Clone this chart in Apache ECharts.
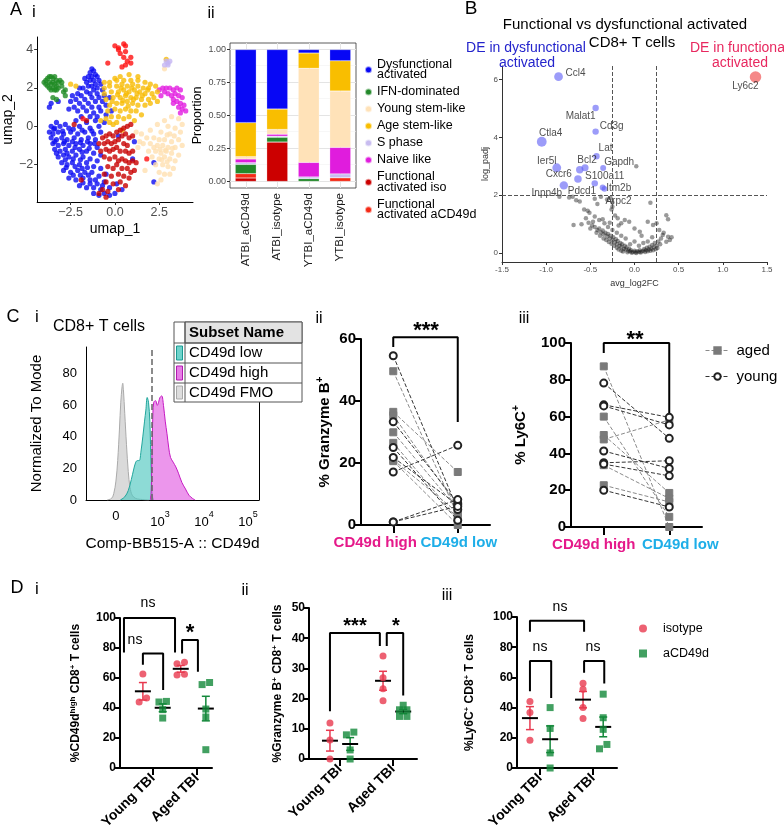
<!DOCTYPE html>
<html>
<head>
<meta charset="utf-8">
<title>CD49d figure</title>
<script src="https://cdn.jsdelivr.net/npm/echarts@6/dist/echarts.min.js"></script>
<style>
  html, body { margin: 0; padding: 0; background: #fff; }
  #fig { width: 784px; height: 837px; }
</style>
</head>
<body>
<div id="fig"></div>
<script>
const FONT = 'Liberation Sans, Arial, Helvetica, sans-serif';

// ---------- A i : UMAP, one list per cluster ----------
const umapDysfunctional = [
  [-1.3,3.0],[-1.2,2.9],[-1.4,2.8],[-1.1,2.7],[-1.3,2.6],[-1.0,2.6],[-1.5,2.6],[-1.7,2.5],[-1.6,2.3],[-1.4,2.4],[-1.2,2.4],[-0.9,2.4],
  [-0.8,2.2],[-1.1,2.2],[-1.3,2.1],[-1.5,2.1],[-1.8,2.0],[-2.0,2.0],[-1.0,2.0],[-0.7,1.9],[-1.2,1.9],[-1.6,1.8],[-2.1,1.7],[-2.4,1.6],
  [-1.9,1.6],[-1.4,1.7],[-1.0,1.7],[-0.6,1.6],[-0.9,1.5],[-1.3,1.5],[-1.7,1.4],[-2.2,1.4],[-2.5,1.3],[-2.0,1.2],[-1.5,1.2],[-1.1,1.3],
  [-0.7,1.3],[-0.5,1.1],[-0.9,1.0],[-1.3,1.0],[-1.8,1.0],[-2.3,1.0],[-2.6,0.9],[-2.1,0.8],[-1.6,0.8],[-1.2,0.7],[-0.8,0.8],[-0.5,0.6],
  [-1.0,0.5],[-1.4,0.5],[-1.9,0.5],[-3.6,1.2],[-3.7,1.0],[-3.2,1.3],
  [-3.3,0.2],[-2.8,0.1],[-2.2,0.3],[-1.6,0.2],[-1.1,0.3],[-0.6,0.2],
  [-3.6,0.0],[-3.4,-0.1],[-3.1,0.0],[-2.6,-0.1],[-2.0,0.0],[-1.4,-0.1],[-0.9,0.0],
  [-3.7,-0.3],[-3.5,-0.4],[-3.2,-0.3],[-2.9,-0.4],[-2.5,-0.3],[-2.1,-0.4],[-1.7,-0.3],[-1.2,-0.4],[-0.8,-0.3],
  [-3.6,-0.6],[-3.3,-0.7],[-3.0,-0.6],[-2.7,-0.7],[-2.3,-0.6],[-1.9,-0.7],[-1.5,-0.6],[-1.1,-0.7],
  [-3.5,-0.9],[-3.2,-1.0],[-2.9,-0.9],[-2.6,-1.0],[-2.2,-0.9],[-1.8,-1.0],[-1.4,-0.9],[-1.0,-1.1],
  [-3.4,-1.2],[-3.1,-1.3],[-2.8,-1.2],[-2.4,-1.3],[-2.0,-1.2],[-1.6,-1.3],[-1.2,-1.4],[-0.8,-1.5],
  [-3.2,-1.6],[-2.9,-1.5],[-2.6,-1.6],[-2.2,-1.5],[-1.8,-1.6],[-1.4,-1.7],[-1.0,-1.8],
  [-3.0,-1.9],[-2.7,-2.0],[-2.4,-1.9],[-2.0,-2.0],[-1.6,-1.9],[-1.2,-2.1],[-0.8,-2.2],
  [-2.9,-2.3],[-2.5,-2.4],[-2.1,-2.3],[-1.7,-2.4],[-1.3,-2.4],[-0.9,-2.6],[-0.5,-2.5],
  [-2.6,-2.7],[-2.2,-2.8],[-1.8,-2.7],[-1.4,-2.8],[-1.0,-3.0],[-0.6,-2.9],
  [-2.0,-3.1],[-1.6,-3.2],[-1.2,-3.2],[-0.8,-3.3],[-0.3,-3.2],[0.1,-3.0],
  [-1.2,-3.5],[-0.9,-3.6],[-0.6,-3.5],[-0.3,-3.6],[0.0,-3.5],[0.4,-3.3],
  [2.2,-1.9],[2.2,-2.9],[1.0,-1.7],[0.2,-0.5],[-0.2,0.8],[-0.3,1.5],[1.1,-0.8],
  [-3.45,-0.15],[-2.95,-0.25],[-2.35,-0.15],[-1.85,-0.2],[-1.3,-0.25],[-3.4,-0.8],[-2.85,-0.8],[-2.4,-0.8],[-1.95,-0.85],[-1.55,-0.8],
  [-1.15,-0.9],[-3.3,-1.4],[-2.7,-1.4],[-2.25,-1.1],[-1.85,-1.35],[-1.45,-1.15],[-2.8,-1.75],[-2.35,-1.7],[-1.95,-1.75],[-1.55,-2.15],
  [-2.75,-2.15],[-2.25,-2.1],[-1.85,-2.2],[-2.35,-2.55],[-1.95,-2.55],[-1.5,-2.55],[-1.1,-2.8],[-1.8,-2.95],[-1.4,-3.0],[-0.7,-3.1]
];
const umapIFN = [
  [-4.0,2.3],[-3.9,2.4],[-3.8,2.5],[-3.7,2.6],[-3.6,2.6],[-3.5,2.5],[-3.4,2.6],[-3.3,2.4],[-3.9,2.2],[-3.8,2.1],[-3.7,2.3],[-3.6,2.2],
  [-3.5,2.3],[-3.4,2.2],[-3.3,2.1],[-3.2,2.3],[-3.1,2.4],[-3.0,2.3],[-3.7,2.0],[-3.6,1.9],[-3.5,2.0],[-3.4,1.9],[-3.3,1.9],[-3.2,2.0],
  [-3.0,2.1],[-2.9,1.8],[-2.8,1.9],[-3.5,1.5],[-3.3,1.4],[-2.8,1.6]
];
const umapYoungStem = [
  [3.2,0.5],[3.6,0.4],[3.8,0.1],[2.8,0.3],[2.4,0.1],[3.0,0.0],[3.4,-0.1],[3.7,-0.3],[2.0,-0.2],[2.6,-0.3],[3.1,-0.4],[1.5,-0.4],
  [1.2,-0.3],[1.8,-0.6],[2.2,-0.6],[2.5,-0.7],[2.8,-0.7],[3.2,-0.8],[3.6,-0.7],[1.6,-0.9],[2.0,-0.9],[2.4,-1.0],[2.7,-1.0],[3.0,-1.1],
  [3.4,-1.1],[3.8,-1.0],[1.9,-1.3],[2.3,-1.3],[2.6,-1.4],[2.9,-1.3],[3.2,-1.4],[3.6,-1.5],[2.1,-1.6],[2.5,-1.7],[2.8,-1.6],[3.1,-1.7],
  [3.4,-1.8],[2.3,-2.0],[2.7,-2.0],[3.0,-2.1],[3.3,-2.2],[2.5,-2.4],[2.8,-2.5],[3.1,-2.5],[2.6,-2.8],[2.4,-3.0],[1.7,-2.3],[1.3,-1.1],
  [1.4,-0.8],[2.2,-1.1],[2.95,-0.45],[3.35,-0.5],[2.55,-1.2],[2.85,-1.25],[3.25,-1.15],[2.65,-1.75],[2.95,-1.85],[2.8,3.0]
];
const umapAgeStem = [
  [0.3,2.6],[0.8,2.7],[1.3,2.6],[0.0,2.5],
  [-0.3,2.3],[0.1,2.4],[0.5,2.4],[0.9,2.4],[1.3,2.4],[1.7,2.3],[2.0,2.2],
  [-0.6,2.0],[-0.3,2.1],[0.1,2.1],[0.4,2.2],[0.7,2.1],[1.0,2.2],[1.3,2.1],[1.6,2.0],[1.9,2.0],[2.3,2.1],
  [-0.6,1.7],[-0.2,1.8],[0.2,1.8],[0.5,1.9],[0.8,1.8],[1.1,1.9],[1.4,1.8],[1.7,1.7],[2.1,1.7],[2.4,1.8],
  [-0.5,1.4],[-0.1,1.5],[0.3,1.5],[0.6,1.6],[0.9,1.5],[1.2,1.5],[1.5,1.4],[1.9,1.4],[2.2,1.5],
  [-0.3,1.1],[0.1,1.2],[0.4,1.2],[0.7,1.3],[1.0,1.2],[1.3,1.1],[1.7,1.1],[2.0,1.2],[2.4,1.3],
  [-0.4,0.8],[0.0,0.9],[0.3,0.8],[0.6,0.9],[0.9,0.8],[1.2,0.8],[1.5,0.6],
  [-0.5,0.4],[-0.2,0.5],[0.2,0.5],[0.5,0.4],[0.8,0.5],[1.1,0.3],
  [-0.3,0.2],[-0.1,0.1],[0.1,0.2],
  [-2.2,2.1],[-2.5,2.2],[-0.8,0.3],[-0.6,2.3],[2.9,3.5],[0.4,-0.2],
  [0.35,2.0],[0.65,1.7],[0.95,2.0],[1.25,1.7],[0.45,1.35],[0.75,1.05],[1.05,1.4],[1.55,1.6],[1.85,1.9],[0.15,1.65],[-0.15,1.3]
];
const umapSPhase = [[2.9,3.4],[3.0,3.3],[3.0,3.2],[2.8,3.2],[3.1,3.4]];
const umapNaive = [
  [2.5,1.9],[2.7,2.0],[2.9,2.0],[3.1,2.0],[3.3,1.9],[3.5,2.0],[3.7,1.9],[2.8,1.8],[3.0,1.7],[3.2,1.6],[3.4,1.7],[3.6,1.6],
  [3.8,1.5],[3.3,1.4],[3.5,1.3],[3.7,1.2],[3.9,1.1],[3.6,1.0],[3.8,0.9],[4.0,0.8],[3.7,0.7],[3.3,1.2],[2.6,1.6]
];
const umapFuncIso = [
  [-0.9,-0.9],[-0.7,-0.6],[-0.5,-0.5],[-0.3,-0.4],[-0.1,-0.5],[0.1,-0.3],[0.3,-0.2],[0.5,-0.1],[0.7,0.0],[0.9,0.1],[0.4,-0.5],[0.6,-0.4],
  [0.8,-0.6],[1.0,-0.5],[-0.6,-0.9],[-0.4,-0.8],[-0.2,-0.9],[0.0,-0.8],[0.2,-0.7],[0.5,-0.9],[0.7,-1.0],[-0.8,-1.3],[-0.5,-1.2],[-0.3,-1.3],
  [-0.1,-1.2],[0.1,-1.1],[0.3,-1.3],[0.6,-1.3],[0.8,-1.4],[1.0,-1.3],[-0.6,-1.6],[-0.3,-1.7],[0.0,-1.6],[0.2,-1.8],[0.4,-1.7],[0.6,-1.8],
  [0.8,-1.9],[1.0,-1.8],[1.2,-1.9],[-0.4,-2.1],[-0.1,-2.2],[0.1,-2.0],[0.4,-2.2],[0.7,-2.2],[0.9,-2.4],[1.1,-2.3],[-0.6,-2.5],[-0.2,-2.6],
  [0.2,-2.5],[0.5,-2.6],[0.8,-2.7],[-0.5,-2.9],[-0.1,-3.0],[0.3,-2.9],[0.6,-3.1],[-0.7,-3.3],[-0.4,-3.4],[0.2,-3.3],[-0.9,-3.5],[-0.5,-3.7],
  [-1.6,0.3],[-2.3,0.1],[-1.9,-2.8]
];
const umapFuncAcd49d = [
  [0.0,4.2],[0.2,4.1],[0.5,4.3],[0.6,4.2],[0.2,4.0],[0.3,3.8],[0.6,3.9],[0.9,3.6],[0.5,3.6],[0.7,3.4],[0.6,3.2],[0.4,3.1],
  [0.9,3.3],[-0.4,3.3],[1.8,-1.7],[-1.8,0.4]
];

// ---------- A ii : cluster proportions per sample ----------
const barSamples     = ['ATBI_aCD49d', 'ATBI_isotype', 'YTBI_aCD49d', 'YTBI_isotype'];
const propFuncIso    = [0.026, 0.299, 0.000, 0.000];
const propFuncAcd49d = [0.033, 0.000, 0.000, 0.028];
const propIFN        = [0.070, 0.036, 0.021, 0.000];
const propSPhase     = [0.013, 0.008, 0.013, 0.029];
const propNaive      = [0.028, 0.015, 0.110, 0.201];
const propYoungStem  = [0.018, 0.036, 0.714, 0.428];
const propAgeStem    = [0.258, 0.155, 0.116, 0.229];
const propDysf       = [0.554, 0.451, 0.026, 0.085];

// ---------- B : volcano ----------
const deGenes   = ['Ccl4','Malat1','Cd3g','Ctla4','Lat','Ier5l','Bcl2','Gapdh','Cxcr6','S100a11','Pdcd1','Inpp4b','Itm2b','Arpc2','Ly6c2'];
const deLog2FC  = [-0.86,-0.44,-0.44,-1.05,-0.43,-0.88,-0.56,-0.355,-0.62,-0.45,-0.64,-0.80,-0.36,-0.34,1.37];
const deLogPadj = [6.10, 5.02, 4.20, 3.85, 3.35, 2.95, 2.95, 2.94, 2.88, 2.41, 2.56, 2.34, 2.27, 2.22, 6.09];
const volcanoOther = [
  [-0.70,1.95],[-0.66,1.83],[-0.62,1.78],[-0.74,1.92],[-0.57,1.51],[-0.53,1.46],[-0.51,1.39],[-0.69,0.97],[-0.45,1.26],[-0.40,1.14],
  [-0.36,1.17],[-0.47,1.08],[-0.34,1.03],[-0.28,1.05],[-0.26,1.51],[-0.25,1.60],[-0.25,1.75],[-0.27,1.90],[-0.31,1.85],[-0.42,1.70],
  [-0.45,1.88],[-0.38,1.95],[-0.19,1.20],[-0.15,1.03],[-0.11,1.14],[-0.06,1.08],[0.00,0.85],[0.06,0.74],[0.15,1.08],[0.21,0.97],
  [0.25,1.03],[0.28,0.80],[0.32,0.62],[0.38,0.56],[0.40,0.45],[0.36,0.39],[0.18,1.74],[0.36,1.31],[0.38,1.17],[0.02,3.00],
  [-0.85,1.95],[-0.55,1.20],[-0.48,0.95],
  [-0.45,0.90],[-0.42,0.80],[-0.40,0.85],[-0.38,0.72],[-0.36,0.78],[-0.35,0.65],[-0.33,0.70],[-0.31,0.58],[-0.30,0.66],[-0.28,0.50],
  [-0.27,0.60],[-0.25,0.45],[-0.24,0.55],[-0.22,0.38],[-0.21,0.48],[-0.20,0.30],[-0.19,0.42],[-0.17,0.25],[-0.16,0.35],[-0.15,0.20],
  [-0.14,0.30],[-0.12,0.15],[-0.11,0.25],[-0.10,0.12],[-0.09,0.20],[-0.07,0.08],[-0.06,0.15],[-0.05,0.05],[-0.04,0.10],[-0.02,0.04],
  [0.00,0.08],[0.01,0.03],[0.03,0.06],[0.05,0.04],[0.06,0.10],[0.08,0.05],[0.10,0.08],[0.11,0.14],[0.13,0.10],[0.14,0.18],
  [0.16,0.12],[0.17,0.22],[0.19,0.15],[0.20,0.28],[0.22,0.20],[0.23,0.35],[0.25,0.25],[0.27,0.40],[0.29,0.30],[0.30,0.50],
  [-0.32,0.45],[-0.29,0.38],[-0.26,0.32],[-0.23,0.25],[-0.20,0.18],[-0.18,0.12],[-0.15,0.08],[-0.13,0.05],[-0.08,0.03],[-0.03,0.01],
  [0.02,0.00],[0.07,0.02],[0.12,0.04],[0.15,0.06],[0.18,0.08],[0.21,0.10],[0.24,0.13],[0.26,0.17],[-0.35,0.50],[-0.39,0.60],
  [-0.43,0.70],[-0.50,0.85],[-0.30,0.90],[-0.20,0.70],[-0.10,0.50],[0.00,0.40],[0.10,0.35],[-0.15,0.60],[-0.05,0.30],[0.05,0.25],
  [0.15,0.40],[0.20,0.55],[-0.25,0.80],[-0.18,0.95],[0.08,0.60],[0.33,0.70],[0.42,0.55],[-0.60,1.00],[-0.52,1.05],[-0.22,1.30]
];

// ---------- C i : histograms (x in decades on the biexponential scale, y = % of mode) ----------
const histFMO  = [[-0.2,0],[-0.1,1],[-0.05,4],[0,12],[0.04,25],[0.08,45],[0.11,62],[0.14,72],[0.155,74],[0.17,70],[0.2,55],
                  [0.24,35],[0.28,18],[0.32,8],[0.37,3],[0.45,1],[0.6,0.3],[0.75,0]];
const histLow  = [[0.1,0],[0.2,2],[0.28,6],[0.35,13],[0.4,19],[0.45,24],[0.49,25],[0.53,25],[0.57,31],[0.61,40],[0.65,50],
                  [0.68,57],[0.71,65],[0.74,62],[0.77,50],[0.79,30],[0.81,12],[0.83,2],[0.86,0]];
const histHigh = [[0.78,0],[0.8,5],[0.82,30],[0.84,55],[0.86,62],[0.9,63],[0.94,60],[0.97,62],[1.0,65],[1.04,66],[1.08,60],
                  [1.12,50],[1.16,42],[1.2,33],[1.24,27],[1.3,24],[1.36,21],[1.42,17],[1.5,11],[1.58,7],[1.66,3],[1.74,1],[1.8,0]];
const histTicks = [0, 1, 2, 3];

// ---------- C ii / C iii : paired values, CD49d high -> CD49d low ----------
const pairCats = ['CD49d high', 'CD49d low'];
const grzAgedHigh  = [49.6, 36.5, 35.4, 29.9, 26.5, 21.0, 20.6];
const grzAgedLow   = [3.0, 17.1, 6.0, 5.0, 2.0, 4.0, 0.0];
const grzYoungHigh = [54.6, 33.3, 25.0, 21.8, 17.1, 1.0, 1.0];
const grzYoungLow  = [5.0, 7.0, 1.5, 6.5, 25.7, 8.2, 6.0];
const ly6AgedHigh  = [87.3, 60.0, 50.0, 47.6, 33.6, 22.7];
const ly6AgedLow   = [0.0, 5.5, 18.5, 58.2, 15.5, 13.6];
const ly6YoungHigh = [78.2, 66.4, 65.8, 41.3, 34.9, 34.2, 20.0];
const ly6YoungLow  = [48.2, 59.6, 55.5, 31.8, 36.0, 27.8, 10.9];

// ---------- D : per-mouse values ----------
const dCategories    = ['Young TBI', 'Aged TBI'];
const dCd49YoungIso  = [62.7, 46.7, 44.0];
const dCd49YoungAnti = [44.4, 44.0, 38.9, 33.3];
const dCd49AgedIso   = [70.5, 69.5, 62.5, 62.0];
const dCd49AgedAnti  = [57.0, 55.6, 39.3, 34.0, 12.2];
const dGrzYoungIso   = [11.9, 6.3, 0.0];
const dGrzYoungAnti  = [8.9, 8.0, 3.0, 0.0];
const dGrzAgedIso    = [34.1, 26.9, 23.3, 19.3];
const dGrzAgedAnti   = [17.8, 16.3, 16.3, 14.1, 14.1];
const dLy6YoungIso   = [44.0, 36.7, 18.4];
const dLy6YoungAnti  = [40.0, 26.2, 10.0, 0.0];
const dLy6AgedIso    = [56.2, 52.2, 40.0, 32.7];
const dLy6AgedAnti   = [48.9, 33.3, 25.6, 15.6, 12.7];

// ================= build =================
const chart = echarts.init(document.getElementById('fig'));
const RED = '#E8394F', GREEN = '#13883A';
const minus = v => (v < 0 ? '\u2212' : '') + Math.abs(v);

function bracket(ax, pts) {
  return { type: 'line', xAxisIndex: ax, yAxisIndex: ax, data: pts, symbol: 'none', clip: false, silent: true,
           lineStyle: { color: '#000', width: 2 }, z: 6 };
}
// axis title with superscripts: parts = [[text, isSup], ...]
function supName(parts) {
  return parts.map(p => '{' + (p[1] ? 's' : 'b') + '|' + p[0] + '}').join('');
}
function supStyle(size) {
  const s = Math.round(size * 0.68);
  return { fontFamily: FONT, fontSize: size, fontWeight: 'bold', color: '#000',
    rich: { b: { fontFamily: FONT, fontSize: size, fontWeight: 'bold', color: '#000', verticalAlign: 'bottom', lineHeight: size + 2 },
            s: { fontFamily: FONT, fontSize: s, fontWeight: 'bold', color: '#000', verticalAlign: 'bottom', lineHeight: s,
                 padding: [0, 0, Math.round(size * 0.45), 0] } } };
}
function prismY(idx, max, step, extra) {
  return Object.assign({
    gridIndex: idx, type: 'value', min: 0, max: max, interval: step,
    axisLine: { show: true, onZero: false, lineStyle: { color: '#000', width: 2 } },
    axisTick: { show: true, length: 6, lineStyle: { color: '#000', width: 2 } },
    axisLabel: { fontFamily: FONT, fontWeight: 'bold', color: '#000', fontSize: 15, margin: 5 },
    splitLine: { show: false },
    nameLocation: 'middle', nameRotate: 90
  }, extra);
}
function spread(vals, x0, dx, thr) {
  const idx = vals.map((v, i) => i).sort((a, b) => vals[a] - vals[b]);
  const out = [];
  let cl = [idx[0]];
  const flush = () => cl.forEach((k, j) => out.push([x0 + (j - (cl.length - 1) / 2) * dx, vals[k]]));
  for (let i = 1; i < idx.length; i++) {
    if (vals[idx[i]] - vals[idx[i - 1]] < thr) cl.push(idx[i]); else { flush(); cl = [idx[i]]; }
  }
  flush();
  return out;
}
function meanSem(v) {
  const n = v.length, m = v.reduce((a, b) => a + b, 0) / n;
  const sd = Math.sqrt(v.reduce((a, b) => a + (b - m) * (b - m), 0) / (n - 1));
  return [m, sd / Math.sqrt(n)];
}

const grids = [
  { left: 36,  top: 37,  width: 157, height: 165 },                                          // A i
  { left: 230, top: 43,  width: 126, height: 145, show: true, borderColor: '#333', borderWidth: 0.8, backgroundColor: '#fff' }, // A ii
  { left: 502, top: 66,  width: 265, height: 196 },                                          // B
  { left: 86,  top: 347, width: 173, height: 153 },                                          // C i
  { left: 361, top: 339, width: 129, height: 186 },                                          // C ii
  { left: 571, top: 343, width: 131, height: 184 },                                          // C iii
  { left: 120, top: 618, width: 92,  height: 150 },                                          // D i
  { left: 309, top: 608, width: 108, height: 151 },                                          // D ii
  { left: 517, top: 617, width: 100, height: 151 }                                           // D iii
];

const thinAx = { show: true, onZero: false, lineStyle: { color: '#000', width: 1 } };
const pairCatAxis = (idx, padHigh, padLow) => ({
  gridIndex: idx, type: 'category', data: pairCats, boundaryGap: true,
  axisLine: { show: true, lineStyle: { color: '#000', width: 2 } },
  axisTick: { show: true, alignWithLabel: true, length: 8, lineStyle: { color: '#000', width: 2 } },
  axisLabel: { margin: 10, interval: 0, fontFamily: FONT,
    formatter: v => v === 'CD49d high' ? '{h|' + v + '}' : '{l|' + v + '}',
    rich: { h: { color: '#E5198A', fontWeight: 'bold', fontSize: 15, fontFamily: FONT, padding: padHigh },
            l: { color: '#1EAEE8', fontWeight: 'bold', fontSize: 15, fontFamily: FONT, padding: padLow } } }
});
const dXAxis = (idx, min, max) => ({
  gridIndex: idx, type: 'value', min: min, max: max,
  axisLine: { show: true, onZero: false, lineStyle: { color: '#000', width: 2 } },
  axisTick: { show: true, length: 7, customValues: [1, 2], lineStyle: { color: '#000', width: 2 } },
  axisLabel: { customValues: [1, 2], rotate: 45, margin: 8, fontFamily: FONT, fontWeight: 'bold', fontSize: 14, color: '#000',
               formatter: v => dCategories[Math.round(v) - 1] },
  splitLine: { show: false }
});
const dTickLabel = { fontFamily: FONT, fontWeight: 'bold', color: '#000', fontSize: 12, margin: 4 };
const dTick = { show: true, length: 5, lineStyle: { color: '#000', width: 2 } };

const xAxes = [
  { gridIndex: 0, type: 'value', min: -4.39, max: 4.41, axisLine: thinAx,
    axisTick: { show: true, length: 3, customValues: [-2.5, 0, 2.5], lineStyle: { color: '#333' } },
    axisLabel: { customValues: [-2.5, 0, 2.5], fontFamily: FONT, fontSize: 12.5, color: '#4d4d4d', margin: 4,
                 formatter: v => (v < 0 ? '\u2212' : '') + Math.abs(v).toFixed(1) },
    splitLine: { show: false }, name: 'umap_1', nameLocation: 'middle', nameGap: 20,
    nameTextStyle: { fontFamily: FONT, fontSize: 14, color: '#000' } },
  { gridIndex: 1, type: 'category', data: barSamples,
    axisLine: { show: false }, axisTick: { show: true, alignWithLabel: true, length: 3, lineStyle: { color: '#333' } },
    axisLabel: { rotate: 90, interval: 0, margin: 5, fontFamily: FONT, fontSize: 11.5, color: '#1a1a1a' } },
  { gridIndex: 2, type: 'value', min: -1.5, max: 1.5, interval: 0.5, axisLine: { show: true, onZero: false, lineStyle: { color: '#333' } },
    axisTick: { show: true, length: 3, lineStyle: { color: '#333' } },
    axisLabel: { fontFamily: FONT, fontSize: 8, color: '#4d4d4d', margin: 4, formatter: v => v.toFixed(1) },
    splitLine: { show: false }, name: 'avg_log2FC', nameLocation: 'middle', nameGap: 17,
    nameTextStyle: { fontFamily: FONT, fontSize: 9, color: '#333' } },
  { gridIndex: 3, type: 'value', min: -0.68, max: 3.25, axisLine: thinAx,
    axisTick: { show: false },
    axisLabel: { customValues: histTicks, margin: 10, fontFamily: FONT, fontSize: 13, color: '#000',
                 formatter: v => v === 0 ? '0' : '10{sup|' + (v + 2) + '}',
                 rich: { sup: { fontSize: 9, fontFamily: FONT, verticalAlign: 'top', lineHeight: 24 } } },
    splitLine: { show: false }, name: 'Comp-BB515-A :: CD49d', nameLocation: 'middle', nameGap: 36,
    nameTextStyle: { fontFamily: FONT, fontSize: 15.5, color: '#000' } },
  pairCatAxis(4, [0, 36, 0, 0], [0, 0, 0, 2]),
  pairCatAxis(5, [0, 20, 0, 0], [0, 0, 0, 22]),
  dXAxis(6, 0.25, 2.34),
  dXAxis(7, 0.415, 2.45),
  dXAxis(8, 0.566, 2.45)
];

const yAxes = [
  { gridIndex: 0, type: 'value', min: -3.95, max: 4.66, axisLine: thinAx,
    axisTick: { show: true, length: 3, customValues: [-2, 0, 2, 4], lineStyle: { color: '#333' } },
    axisLabel: { customValues: [-2, 0, 2, 4], fontFamily: FONT, fontSize: 12.5, color: '#4d4d4d', margin: 4, formatter: minus },
    splitLine: { show: false }, name: 'umap_2', nameLocation: 'middle', nameRotate: 90, nameGap: 19,
    nameTextStyle: { fontFamily: FONT, fontSize: 14, color: '#000' } },
  { gridIndex: 1, type: 'value', min: -0.05, max: 1.05, axisLine: { show: false },
    axisTick: { show: true, length: 3, customValues: [0, 0.25, 0.5, 0.75, 1], lineStyle: { color: '#333' } },
    axisLabel: { customValues: [0, 0.25, 0.5, 0.75, 1], fontFamily: FONT, fontSize: 9, color: '#4d4d4d', margin: 4,
                 formatter: v => v.toFixed(2) },
    splitLine: { show: false }, name: 'Proportion', nameLocation: 'middle', nameRotate: 90, nameGap: 26,
    nameTextStyle: { fontFamily: FONT, fontSize: 12.5, color: '#000' } },
  { gridIndex: 2, type: 'value', min: -0.31, max: 6.47, axisLine: { show: true, onZero: false, lineStyle: { color: '#333' } },
    axisTick: { show: true, length: 3, customValues: [0, 2, 4, 6], lineStyle: { color: '#333' } },
    axisLabel: { customValues: [0, 2, 4, 6], fontFamily: FONT, fontSize: 8, color: '#4d4d4d', margin: 4 },
    splitLine: { show: false }, name: 'log_padj', nameLocation: 'middle', nameRotate: 90, nameGap: 12,
    nameTextStyle: { fontFamily: FONT, fontSize: 9, color: '#333' } },
  { gridIndex: 3, type: 'value', min: 0, max: 97, axisLine: thinAx, axisTick: { show: false },
    axisLabel: { customValues: [0, 20, 40, 60, 80], fontFamily: FONT, fontSize: 13, color: '#000', margin: 9 },
    splitLine: { show: false }, name: 'Normalized To Mode', nameLocation: 'middle', nameRotate: 90, nameGap: 42,
    nameTextStyle: { fontFamily: FONT, fontSize: 15, color: '#000' } },
  prismY(4, 60, 20, { name: supName([['% Granzyme B', 0], ['+', 1]]), nameGap: 29, nameTextStyle: supStyle(15) }),
  prismY(5, 100, 20, { name: supName([['% Ly6C', 0], ['+', 1]]), nameGap: 43, nameTextStyle: supStyle(15) }),
  prismY(6, 100, 20, { name: supName([['%CD49d', 0], ['high', 1], [' CD8', 0], ['+', 1], [' T cells', 0]]), nameGap: 38,
    axisLabel: dTickLabel, axisTick: dTick, nameTextStyle: supStyle(12) }),
  prismY(7, 50, 10, { name: supName([['%Granzyme B', 0], ['+', 1], [' CD8', 0], ['+', 1], [' T cells', 0]]), nameGap: 25,
    axisLabel: dTickLabel, axisTick: dTick, nameTextStyle: supStyle(12) }),
  prismY(8, 100, 20, { name: supName([['%Ly6C', 0], ['+', 1], [' CD8', 0], ['+', 1], [' T cells', 0]]), nameGap: 41,
    axisLabel: dTickLabel, axisTick: dTick, nameTextStyle: supStyle(12) }),
  // right edge of the flow histogram frame
  { gridIndex: 3, type: 'value', position: 'right', min: 0, max: 97, axisLine: thinAx,
    axisTick: { show: false }, axisLabel: { show: false }, splitLine: { show: false } }
];

const series = [];

// A i
[
  [umapDysfunctional, '#0B0BF2'], [umapIFN, '#1F8B24'], [umapYoungStem, '#FFE0B0'], [umapNaive, '#E21DE0'],
  [umapAgeStem, '#F7BC05'], [umapSPhase, '#C4B5F2'], [umapFuncIso, '#C80000'], [umapFuncAcd49d, '#FF1010']
].forEach(([pts, color]) => series.push({
  type: 'scatter', xAxisIndex: 0, yAxisIndex: 0, data: pts, symbolSize: 5.2, silent: true, itemStyle: { color: color }
}));

// A ii : grid lines (behind) then stacked bars
series.push({
  type: 'line', xAxisIndex: 1, yAxisIndex: 1, data: [], silent: true, z: 1,
  markLine: { silent: true, symbol: 'none', label: { show: false }, animation: false, z: 1,
    data: [0, 0.25, 0.5, 0.75, 1].map(v => ({ yAxis: v, lineStyle: { color: '#e4e4e4', width: 1, type: 'solid' } }))
      .concat([0.125, 0.375, 0.625, 0.875].map(v => ({ yAxis: v, lineStyle: { color: '#f2f2f2', width: 0.6, type: 'solid' } })))
      .concat(barSamples.map(c => ({ xAxis: c, lineStyle: { color: '#e4e4e4', width: 1, type: 'solid' } }))) }
});
const stackDefs = [
  ['Functional activated iso', propFuncIso, '#CC0000'],
  ['Functional activated aCD49d', propFuncAcd49d, '#F52A16'],
  ['IFN-dominated', propIFN, '#23892A'],
  ['S phase', propSPhase, '#C8BCF0'],
  ['Naive like', propNaive, '#E01CDD'],
  ['Young stem-like', propYoungStem, '#FFE2B8'],
  ['Age stem-like', propAgeStem, '#F9BE00'],
  ['Dysfunctional activated', propDysf, '#0707F5']
];
stackDefs.forEach(([name, vals, color]) => series.push({
  type: 'bar', name: name, xAxisIndex: 1, yAxisIndex: 1, stack: 'prop', data: vals, barWidth: 21, z: 8,
  itemStyle: { color: color, borderColor: 'rgba(255,255,255,0.6)', borderWidth: 0.4 }
}));

// B
series.push({
  type: 'scatter', xAxisIndex: 2, yAxisIndex: 2, data: volcanoOther, symbolSize: 4.5, silent: true,
  itemStyle: { color: 'rgba(25,25,25,0.55)' },
  markLine: { silent: true, symbol: 'none', label: { show: false }, animation: false,
    lineStyle: { type: 'dashed', color: '#555', width: 1 },
    data: [{ xAxis: -0.25 }, { xAxis: 0.25 }, { yAxis: 2 }] }
});
const deLabelOffset = {
  Ccl4: [17, -3], Malat1: [-15, 8], Cd3g: [16, -5], Ctla4: [9, -8], Lat: [9, -8], Ier5l: [-10, -7], Bcl2: [2, -8],
  Gapdh: [16, -6], Cxcr6: [-21, 4], S100a11: [10, -7], Pdcd1: [4, 12], Inpp4b: [-17, 8], Itm2b: [16, 1],
  Arpc2: [14, 12], Ly6c2: [-10, 9]
};
series.push({
  type: 'scatter', xAxisIndex: 2, yAxisIndex: 2, silent: true, z: 4,
  data: deGenes.map((g, i) => ({
    value: [deLog2FC[i], deLogPadj[i]],
    symbolSize: 4 + 5.5 * Math.abs(deLog2FC[i]),
    itemStyle: { color: deLog2FC[i] > 0 ? 'rgba(240,80,80,0.85)' : 'rgba(90,90,245,0.75)' },
    label: { show: true, formatter: g, position: 'inside', offset: deLabelOffset[g],
             fontFamily: FONT, fontSize: 10, color: '#222' }
  }))
});

// C i
[
  [histFMO, 'rgba(205,205,205,0.75)', '#aaaaaa'],
  [histLow, 'rgba(80,200,192,0.65)', '#22A69C'],
  [histHigh, 'rgba(228,110,228,0.72)', '#C51AC2']
].forEach(([pts, fill, stroke], k) => series.push({
  type: 'line', xAxisIndex: 3, yAxisIndex: 3, data: pts, smooth: 0.35, symbol: 'none', silent: true, z: 2 + k,
  lineStyle: { color: stroke, width: 1 }, areaStyle: { color: fill, opacity: 1 },
  markLine: k === 2 ? { silent: true, symbol: 'none', label: { show: false }, animation: false, z: 10,
    lineStyle: { type: 'dashed', color: '#666', width: 1.5 }, data: [{ xAxis: 0.82 }] } : undefined
}));

// C ii / C iii paired lines
function pairSeries(ax, high, low, name) {
  const aged = name === 'aged';
  high.forEach((h, i) => series.push({
    type: 'line', name: name, xAxisIndex: ax, yAxisIndex: ax, data: [[0, h], [1, low[i]]], silent: true, clip: false,
    symbol: aged ? 'rect' : 'emptyCircle', symbolSize: 7, z: aged ? 4 : 5,
    itemStyle: { color: aged ? '#7a7a7a' : '#222', borderColor: aged ? '#7a7a7a' : '#222', borderWidth: 1 },
    lineStyle: { type: 'dashed', width: 1, color: aged ? '#8a8a8a' : '#333' }
  }));
}
pairSeries(4, grzAgedHigh, grzAgedLow, 'aged');
pairSeries(4, grzYoungHigh, grzYoungLow, 'young');
pairSeries(5, ly6AgedHigh, ly6AgedLow, 'aged');
pairSeries(5, ly6YoungHigh, ly6YoungLow, 'young');
series.push(bracket(4, [[0, 57.4], [0, 60.6], [1, 60.6], [1, 33.2]]));
series.push(bracket(5, [[0, 94.6], [0, 100], [1, 100], [1, 62]]));

// D panels
const dPanels = [
  { ax: 6, sets: [[dCd49YoungIso, dCd49YoungAnti], [dCd49AgedIso, dCd49AgedAnti]], xs: [[0.77, 1.22], [1.63, 2.2]], thr: 3, dx: 0.17 },
  { ax: 7, sets: [[dGrzYoungIso, dGrzYoungAnti], [dGrzAgedIso, dGrzAgedAnti]], xs: [[0.81, 1.19], [1.81, 2.19]], thr: 1, dx: 0.14 },
  { ax: 8, sets: [[dLy6YoungIso, dLy6YoungAnti], [dLy6AgedIso, dLy6AgedAnti]], xs: [[0.81, 1.19], [1.81, 2.19]], thr: 3, dx: 0.14 }
];
const dColors = [RED, GREEN];
dPanels.forEach(p => {
  const iso = [], anti = [], sem = [];
  p.sets.forEach((pair, g) => {
    pair.forEach((vals, t) => {
      const pts = spread(vals, p.xs[g][t], p.dx, p.thr);
      (t === 0 ? iso : anti).push(...pts);
      const ms = meanSem(vals);
      sem.push([p.xs[g][t], ms[0], ms[1], t]);
    });
  });
  series.push({
    type: 'custom', xAxisIndex: p.ax, yAxisIndex: p.ax, data: sem, silent: true, z: 3,
    renderItem: (params, api) => {
      const x = api.value(0), m = api.value(1), s = api.value(2), col = dColors[api.value(3)];
      const c = api.coord([x, m]), t = api.coord([x, m + s]), b = api.coord([x, m - s]);
      return { type: 'group', children: [
        { type: 'line', shape: { x1: c[0], y1: t[1], x2: c[0], y2: b[1] }, style: { stroke: col, lineWidth: 1.5 } },
        { type: 'line', shape: { x1: c[0] - 4, y1: t[1], x2: c[0] + 4, y2: t[1] }, style: { stroke: col, lineWidth: 1.5 } },
        { type: 'line', shape: { x1: c[0] - 4, y1: b[1], x2: c[0] + 4, y2: b[1] }, style: { stroke: col, lineWidth: 1.5 } },
        { type: 'line', shape: { x1: c[0] - 8, y1: c[1], x2: c[0] + 8, y2: c[1] }, style: { stroke: '#000', lineWidth: 2 } }
      ] };
    }
  });
  series.push({ type: 'scatter', name: 'isotype', xAxisIndex: p.ax, yAxisIndex: p.ax, data: iso, symbol: 'circle',
                symbolSize: 7, clip: false, silent: true, itemStyle: { color: RED }, z: 4 });
  series.push({ type: 'scatter', name: 'aCD49d', xAxisIndex: p.ax, yAxisIndex: p.ax, data: anti, symbol: 'rect',
                symbolSize: 7, clip: false, silent: true, itemStyle: { color: GREEN }, z: 4 });
});
series.push(bracket(6, [[0.34, 77], [0.34, 100], [1.5, 100], [1.5, 77]]));
series.push(bracket(6, [[0.77, 68.9], [0.77, 76.4], [1.23, 76.4], [1.23, 52]]));
series.push(bracket(6, [[1.66, 76.4], [1.66, 85.3], [2.02, 85.3], [2.02, 64.2]]));
series.push(bracket(7, [[0.81, 15.8], [0.81, 41.7], [1.75, 41.7], [1.75, 37.4]]));
series.push(bracket(7, [[1.88, 37.4], [1.88, 41.7], [2.19, 41.7], [2.19, 21]]));
series.push(bracket(8, [[0.81, 90.2], [0.81, 97.5], [1.83, 97.5], [1.83, 90.2]]));
series.push(bracket(8, [[0.81, 50.9], [0.81, 70.9], [1.21, 70.9], [1.21, 46.4]]));
series.push(bracket(8, [[1.83, 63.1], [1.83, 70.9], [2.21, 70.9], [2.21, 56]]));

// ---------- texts drawn as graphics ----------
function t(x, y, s, size, extra) {
  return { type: 'text', x: x, y: y, z: 100, silent: true,
           style: Object.assign({ text: s, fontSize: size, fontFamily: FONT, fill: '#000', align: 'center', verticalAlign: 'middle' }, extra || {}) };
}
const graphics = [
  t(16, 10, 'A', 18), t(34, 12, 'i', 17), t(211, 14, 'ii', 16), t(471, 9, 'B', 19),
  t(13, 317, 'C', 18), t(37, 317, 'i', 17), t(319, 319, 'ii', 16), t(524, 319, 'iii', 16),
  t(17, 588, 'D', 18), t(37, 589, 'i', 17), t(245, 591, 'ii', 16), t(447, 596, 'iii', 16),
  t(625, 25, 'Functional vs dysfunctional activated', 15),
  t(632, 43, 'CD8+ T cells', 15),
  t(526, 48, 'DE in dysfunctional', 14, { fill: '#2424CC' }),
  t(527, 63, 'activated', 14, { fill: '#2424CC' }),
  t(739, 48, 'DE in functional', 14, { fill: '#E8285F' }),
  t(740, 63, 'activated', 14, { fill: '#E8285F' }),
  t(53, 327, 'CD8+ T cells', 16, { align: 'left' }),
  t(426, 331, '***', 22, { fontWeight: 'bold' }),
  t(635, 340, '**', 22, { fontWeight: 'bold' }),
  t(148, 603, 'ns', 14), t(135, 640, 'ns', 14), t(190, 633, '*', 22, { fontWeight: 'bold' }),
  t(355, 626, '***', 20, { fontWeight: 'bold' }), t(396, 626, '*', 20, { fontWeight: 'bold' }),
  t(560, 607, 'ns', 14), t(540, 647, 'ns', 14), t(593, 647, 'ns', 14),
  // FlowJo subset table
  { type: 'rect', z: 99, silent: true, shape: { x: 174, y: 322, width: 128, height: 80 }, style: { fill: '#fff', stroke: '#555', lineWidth: 1 } },
  { type: 'rect', z: 99, silent: true, shape: { x: 185, y: 322, width: 117, height: 21 }, style: { fill: '#e3e3e3', stroke: '#555', lineWidth: 1 } },
  { type: 'line', z: 99, silent: true, shape: { x1: 174, y1: 343, x2: 302, y2: 343 }, style: { stroke: '#555', lineWidth: 1 } },
  { type: 'line', z: 99, silent: true, shape: { x1: 174, y1: 363, x2: 302, y2: 363 }, style: { stroke: '#555', lineWidth: 1 } },
  { type: 'line', z: 99, silent: true, shape: { x1: 174, y1: 383, x2: 302, y2: 383 }, style: { stroke: '#555', lineWidth: 1 } },
  { type: 'line', z: 99, silent: true, shape: { x1: 185, y1: 322, x2: 185, y2: 402 }, style: { stroke: '#555', lineWidth: 1 } },
  { type: 'rect', z: 100, silent: true, shape: { x: 176.5, y: 346, width: 6, height: 14 }, style: { fill: '#6FD3CB', stroke: '#1A9B92', lineWidth: 1 } },
  { type: 'rect', z: 100, silent: true, shape: { x: 176.5, y: 366, width: 6, height: 14 }, style: { fill: '#E77DE6', stroke: '#B31AB0', lineWidth: 1 } },
  { type: 'rect', z: 100, silent: true, shape: { x: 176.5, y: 386, width: 6, height: 13 }, style: { fill: '#DDDDDD', stroke: '#AAAAAA', lineWidth: 1 } },
  t(189, 333, 'Subset Name', 15, { align: 'left', fontWeight: 'bold' }),
  t(189, 353, 'CD49d low', 15, { align: 'left' }),
  t(189, 373, 'CD49d high', 15, { align: 'left' }),
  t(189, 393, 'CD49d FMO', 15, { align: 'left' })
];

const legendNames = {
  'Dysfunctional activated': 'Dysfunctional\nactivated',
  'Functional activated iso': 'Functional\nactivated iso',
  'Functional activated aCD49d': 'Functional\nactivated aCD49d'
};

chart.setOption({
  animation: false,
  grid: grids,
  xAxis: xAxes,
  yAxis: yAxes,
  series: series,
  graphic: graphics,
  legend: [
    { orient: 'vertical', left: 359, top: 53, icon: 'circle', itemWidth: 7, itemHeight: 7, itemGap: 4, selectedMode: false,
      data: ['Dysfunctional activated', 'IFN-dominated', 'Young stem-like', 'Age stem-like', 'S phase', 'Naive like',
             'Functional activated iso', 'Functional activated aCD49d'],
      formatter: n => legendNames[n] || n,
      textStyle: { fontFamily: FONT, fontSize: 12.5, lineHeight: 10.5, color: '#000', padding: [0, 0, 0, 0] } },
    { orient: 'vertical', left: 700, top: 338, itemWidth: 24, itemHeight: 8, itemGap: 11, selectedMode: false,
      data: ['aged', 'young'], lineStyle: { type: 'dashed', width: 1 },
      textStyle: { fontFamily: FONT, fontSize: 15, color: '#000', padding: [0, 0, 0, 2] } },
    { orient: 'vertical', left: 634, top: 617, itemWidth: 8, itemHeight: 8, itemGap: 12, selectedMode: false,
      data: ['isotype', 'aCD49d'],
      textStyle: { fontFamily: FONT, fontSize: 12.5, color: '#000', padding: [0, 0, 0, 11] } }
  ]
});
</script>
</body>
</html>
